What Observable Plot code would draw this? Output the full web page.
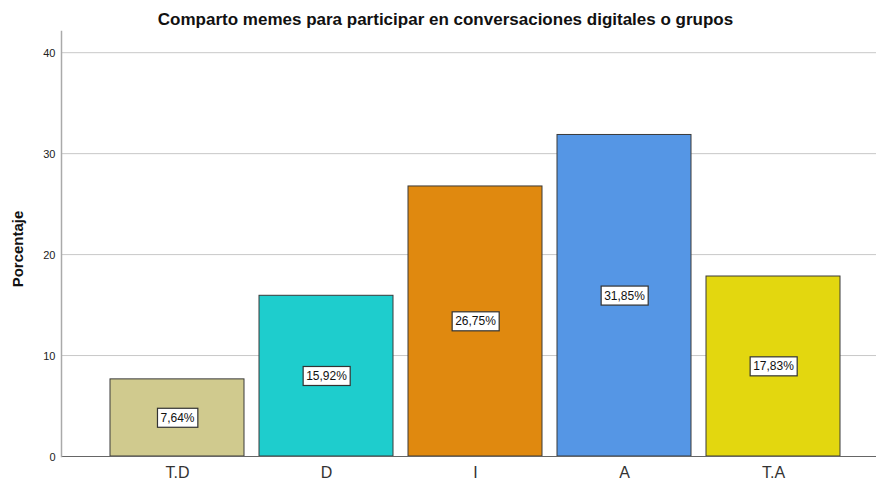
<!DOCTYPE html>
<html>
<head>
<meta charset="utf-8">
<script src="https://cdn.jsdelivr.net/npm/d3@7"></script>
<script src="https://cdn.jsdelivr.net/npm/@observablehq/plot@0.6"></script>
<style>
  body { margin: 0; background: #fff; font-family: "Liberation Sans", Arial, sans-serif; }
  #title { height: 30px; box-sizing: border-box; padding-top: 12px; padding-left: 14px; text-align: center;
    font-size: 17px; line-height: 16px; font-weight: bold; color: #111; }
</style>
</head>
<body>
<div id="title">Comparto memes para participar en conversaciones digitales o grupos</div>
<div id="chart"></div>
<script>
const categories = ["T.D", "D", "I", "A", "T.A"];
const percentages = [7.64, 15.92, 26.75, 31.85, 17.83];
const yTicks = [0, 10, 20, 30, 40];
const barColors = ["#d0ca8e", "#1ecdcd", "#e0890f", "#5596e5", "#e3d70f"];

const data = categories.map((c, i) => ({cat: c, value: percentages[i]}));
const fmt = v => v.toFixed(2).replace(".", ",") + "%";

const chart = Plot.plot({
  width: 877,
  height: 451,
  marginLeft: 61,
  marginRight: 1,
  marginTop: 1,
  marginBottom: 25,
  style: {fontFamily: "Liberation Sans, Arial, sans-serif", background: "#fff"},
  x: {domain: categories, range: [102.5, 847.5], paddingInner: 0.1, paddingOuter: 0.05, label: null},
  y: {domain: [0, 42.1], label: null},
  color: {domain: categories, range: barColors},
  marks: [
    Plot.gridY(yTicks.filter(t => t > 0), {stroke: "#c8c8c8", strokeOpacity: 1, strokeWidth: 1}),
    Plot.barY(data, {x: "cat", y: "value", fill: "cat", stroke: "#3a3a3a", strokeWidth: 1, inset: 0}),
    Plot.ruleY([0], {stroke: "#666", strokeWidth: 1}),
    Plot.frame({anchor: "left", stroke: "#aaa", strokeWidth: 1.5}),
    Plot.axisY(yTicks, {tickSize: 0, tickPadding: 6, fontSize: 11, fill: "#222", label: null, dy: 1}),
    Plot.axisX({tickSize: 0, tickPadding: 10, fontSize: 16, fill: "#333", label: null}),
    Plot.text(["Porcentaje"], {frameAnchor: "left", textAnchor: "middle", rotate: -90, dx: -43, dy: 5, fontSize: 15, fontWeight: "bold", fill: "#111"}),
    Plot.text(data, {x: "cat", y: d => d.value / 2, text: d => fmt(d.value), fontSize: 12, fill: "#111"})
  ]
});
document.getElementById("chart").appendChild(chart);

// white boxes behind the value labels
chart.querySelectorAll("text").forEach(t => {
  if (!/%$/.test(t.textContent)) return;
  const b = t.getBBox();
  const r = document.createElementNS("http://www.w3.org/2000/svg", "rect");
  r.setAttribute("x", b.x - 3);
  r.setAttribute("y", b.y - 2.5);
  r.setAttribute("width", b.width + 6);
  r.setAttribute("height", b.height + 5);
  r.setAttribute("fill", "#fff");
  r.setAttribute("stroke", "#333");
  r.setAttribute("stroke-width", 1.2);
  const tr = t.getAttribute("transform");
  if (tr) r.setAttribute("transform", tr);
  t.parentNode.insertBefore(r, t);
});
</script>
</body>
</html>
